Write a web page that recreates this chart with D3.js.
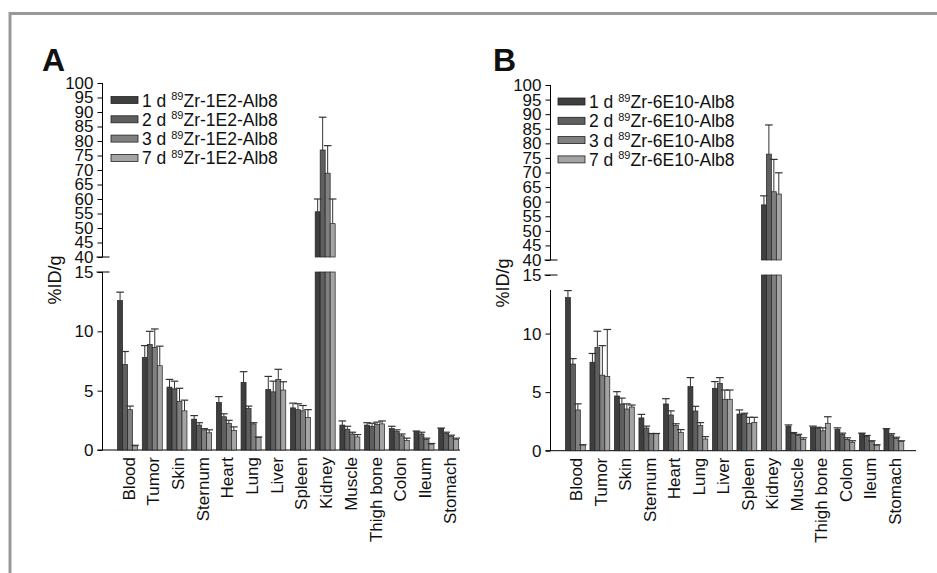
<!DOCTYPE html>
<html>
<head>
<meta charset="utf-8">
<script src="https://cdn.jsdelivr.net/npm/d3@7"></script>
<style>
  body { margin: 0; background: #fff; }
  svg { display: block; font-family: "Liberation Sans", Arial, Helvetica, sans-serif; }
</style>
</head>
<body>
<script>
// Biodistribution of two 89Zr-labelled nanobodies, broken y axis (0-15 / 40-100)

const categories = ["Blood", "Tumor", "Skin", "Sternum", "Heart", "Lung", "Liver",
  "Spleen", "Kidney", "Muscle", "Thigh bone", "Colon", "Ileum", "Stomach"]
const days = ["1 d", "2 d", "3 d", "7 d"]
const colors = ["#3f3f3f", "#5f5f5f", "#808080", "#a4a4a4"]

// panel A: 89Zr-1E2-Alb8 (mean, sd)
const A_1d = [12.6, 7.8, 5.3, 2.6, 4.0, 5.7, 5.1, 3.55, 55.6, 2.1, 2.1, 1.8, 1.55, 1.8]
const A_1d_sd = [0.7, 1.0, 0.65, 0.3, 0.5, 0.9, 1.1, 0.4, 4.4, 0.35, 0.2, 0.2, 0.05, 0.05]
const A_2d = [7.2, 8.9, 5.15, 2.1, 2.8, 3.5, 4.9, 3.4, 76.9, 1.75, 2.0, 1.55, 1.35, 1.4]
const A_2d_sd = [1.1, 1.1, 0.65, 0.2, 0.25, 0.2, 0.9, 0.5, 11.3, 0.25, 0.25, 0.15, 0.15, 0.1]
const A_3d = [3.4, 8.65, 4.1, 1.7, 2.25, 2.2, 5.95, 3.3, 68.9, 1.35, 2.15, 1.2, 0.9, 1.15]
const A_3d_sd = [0.3, 1.55, 1.1, 0.1, 0.25, 0.1, 0.85, 0.45, 9.5, 0.15, 0.2, 0.15, 0.1, 0.1]
const A_7d = [0.35, 7.1, 3.3, 1.45, 1.65, 1.05, 5.05, 2.75, 51.5, 1.1, 2.2, 0.8, 0.5, 0.9]
const A_7d_sd = [0.05, 1.65, 0.9, 0.25, 0.3, 0.05, 0.7, 0.65, 8.5, 0.2, 0.25, 0.2, 0.05, 0.1]

// panel B: 89Zr-6E10-Alb8 (mean, sd)
const B_1d = [13.07, 7.55, 4.67, 2.8, 3.99, 5.47, 5.33, 3.13, 58.9, 2.1, 2.0, 1.83, 1.48, 1.85]
const B_1d_sd = [0.6, 0.75, 0.37, 0.3, 0.45, 0.77, 0.57, 0.35, 3.1, 0.1, 0.1, 0.12, 0.02, 0.03]
const B_2d = [7.4, 8.8, 3.99, 1.94, 3.05, 3.39, 5.75, 3.13, 76.3, 1.48, 1.91, 1.39, 1.2, 1.35]
const B_2d_sd = [0.46, 1.4, 0.5, 0.16, 0.35, 0.4, 0.49, 0.07, 10.0, 0.07, 0.09, 0.11, 0.1, 0.1]
const B_3d = [3.48, 6.45, 3.56, 1.45, 2.14, 2.14, 4.39, 2.34, 63.4, 1.3, 1.7, 0.97, 0.77, 1.05]
const B_3d_sd = [0.52, 2.52, 0.44, 0.02, 0.16, 0.26, 0.79, 0.51, 11.1, 0.1, 0.25, 0.13, 0.08, 0.1]
const B_7d = [0.49, 6.35, 3.73, 1.45, 1.57, 1.0, 4.39, 2.42, 62.6, 0.97, 2.34, 0.72, 0.49, 0.77]
const B_7d_sd = [0.02, 4.0, 0.17, 0.02, 0.23, 0.2, 0.79, 0.43, 7.3, 0.13, 0.56, 0.13, 0.01, 0.08]

const lowTicks = [0, 5, 10, 15]
const highTicks = d3.range(40, 101, 5)

const W = 937, H = 573

const svg = d3.select("body").append("svg")
  .attr("width", W)
  .attr("height", H)

svg.append("rect").attr("width", W).attr("height", H).attr("fill", "#fff")

// grey frame, top and left only
svg.append("path")
  .attr("d", `M10,${H} V13.5 H${W}`)
  .attr("fill", "none")
  .attr("stroke", "#999")
  .attr("stroke-width", 3)

function drawPanel(p) {
  const g = svg.append("g")
  const step = p.step
  const x = d3.scaleBand()
    .domain(categories)
    .range([p.axisX, p.axisX + step * (categories.length - 0.19 + 1.22)])
    .paddingInner(0.19)
    .paddingOuter(0.61)
  const xs = d3.scaleBand().domain(days).range([0, x.bandwidth()])
  const yLow = d3.scaleLinear().domain([0, 15]).range([p.low0, p.low15])
  const yHigh = d3.scaleLinear().domain([40, 100]).range([p.high40, p.high100])

  // upper axis
  const up = g.append("g")
    .attr("transform", `translate(${p.axisX},0)`)
    .call(d3.axisLeft(yHigh).tickValues(highTicks).tickSize(5).tickPadding(4))
  up.select(".domain").remove()
  up.append("line")
    .attr("y1", yHigh(100)).attr("y2", yHigh(40))
    .attr("stroke", "#000")
  up.append("line")
    .attr("x1", -6).attr("x2", 7)
    .attr("y1", yHigh(40)).attr("y2", yHigh(40))
    .attr("stroke", "#000")

  // lower axis
  const lo = g.append("g")
    .attr("transform", `translate(${p.axisX},0)`)
    .call(d3.axisLeft(yLow).tickValues(lowTicks).tickSize(5).tickPadding(4))
  lo.select(".domain").remove()
  lo.append("line")
    .attr("y1", p.lowLineTop).attr("y2", yLow(0))
    .attr("stroke", "#000")
  lo.append("line")
    .attr("x1", -6).attr("x2", 7)
    .attr("y1", yLow(15)).attr("y2", yLow(15))
    .attr("stroke", "#000")

  g.selectAll(".tick text")
    .attr("font-size", 17)
    .attr("font-family", "Liberation Sans, Arial, sans-serif")
    .attr("fill", "#111")
  g.selectAll(".tick line").attr("stroke", "#000")

  // x axis line and category labels
  g.append("line")
    .attr("x1", p.axisX - 5).attr("x2", p.xEnd)
    .attr("y1", yLow(0)).attr("y2", yLow(0))
    .attr("stroke", "#000")
  g.selectAll(".cat")
    .data(categories)
    .join("text")
    .attr("class", "cat")
    .attr("transform", d => `translate(${x(d) + x.bandwidth() / 2 + 1},${yLow(0) + 7}) rotate(-90)`)
    .attr("text-anchor", "end")
    .attr("dy", "0.35em")
    .attr("font-size", 17)
    .attr("fill", "#111")
    .text(d => d)

  // bars
  const bars = g.append("g")
  const errs = g.append("g")
  p.means.forEach((vals, s) => {
    vals.forEach((v, i) => {
      const bx = x(categories[i]) + xs(days[s])
      const bw = xs.bandwidth()
      const low = Math.min(v, 15)
      bars.append("rect")
        .attr("x", bx).attr("width", bw)
        .attr("y", yLow(low)).attr("height", yLow(0) - yLow(low))
        .attr("fill", colors[s])
        .attr("stroke", "#222").attr("stroke-width", 0.7)
      if (v > 40) {
        bars.append("rect")
          .attr("x", bx).attr("width", bw)
          .attr("y", yHigh(v)).attr("height", yHigh(40) - yHigh(v))
          .attr("fill", colors[s])
          .attr("stroke", "#222").attr("stroke-width", 0.7)
      }
      const top = v + p.sds[s][i]
      const y = v > 40 ? yHigh : yLow
      const cx = bx + bw / 2
      errs.append("line")
        .attr("x1", cx).attr("x2", cx)
        .attr("y1", y(v)).attr("y2", y(top))
        .attr("stroke", "#333").attr("stroke-width", 1)
      errs.append("line")
        .attr("x1", cx - 3.8).attr("x2", cx + 3.8)
        .attr("y1", y(top)).attr("y2", y(top))
        .attr("stroke", "#333").attr("stroke-width", 1.2)
    })
  })

  // y label
  g.append("text")
    .attr("transform", `translate(${p.axisX - 48},${p.labelY}) rotate(-90)`)
    .attr("text-anchor", "middle")
    .attr("dy", "0.35em")
    .attr("font-size", 18)
    .attr("fill", "#111")
    .text("%ID/g")

  // panel letter
  g.append("text")
    .attr("x", p.letterX).attr("y", 71)
    .attr("font-size", 32)
    .attr("font-weight", "bold")
    .attr("fill", "#111")
    .text(p.letter)

  // legend
  const leg = g.append("g")
  days.forEach((d, s) => {
    const cy = p.legY + s * 19.3
    leg.append("rect")
      .attr("x", p.legX).attr("y", cy - 3.5)
      .attr("width", 27).attr("height", 7)
      .attr("fill", colors[s])
      .attr("stroke", "#222").attr("stroke-width", 0.8)
    const t = leg.append("text")
      .attr("x", p.legX + 31).attr("y", cy + 6.5)
      .attr("font-size", 17.5)
      .attr("fill", "#111")
    t.append("tspan").text(d + " ")
    t.append("tspan").attr("font-size", 11).attr("dy", -6.5).text("89")
    t.append("tspan").attr("dy", 6.5).text(p.compound)
  })
}

drawPanel({
  letter: "A", letterX: 42, compound: "Zr-1E2-Alb8",
  axisX: 102.5, step: 24.7, xEnd: 460,
  low0: 450, low15: 272, high40: 257, high100: 83, lowLineTop: 272,
  labelY: 280, legX: 111, legY: 100,
  means: [A_1d, A_2d, A_3d, A_7d],
  sds: [A_1d_sd, A_2d_sd, A_3d_sd, A_7d_sd]
})

drawPanel({
  letter: "B", letterX: 493, compound: "Zr-6E10-Alb8",
  axisX: 550.5, step: 24.5, xEnd: 916,
  low0: 450.7, low15: 275, high40: 260, high100: 85, lowLineTop: 290,
  labelY: 283, legX: 558, legY: 101.5,
  means: [B_1d, B_2d, B_3d, B_7d],
  sds: [B_1d_sd, B_2d_sd, B_3d_sd, B_7d_sd]
})
</script>
</body>
</html>
